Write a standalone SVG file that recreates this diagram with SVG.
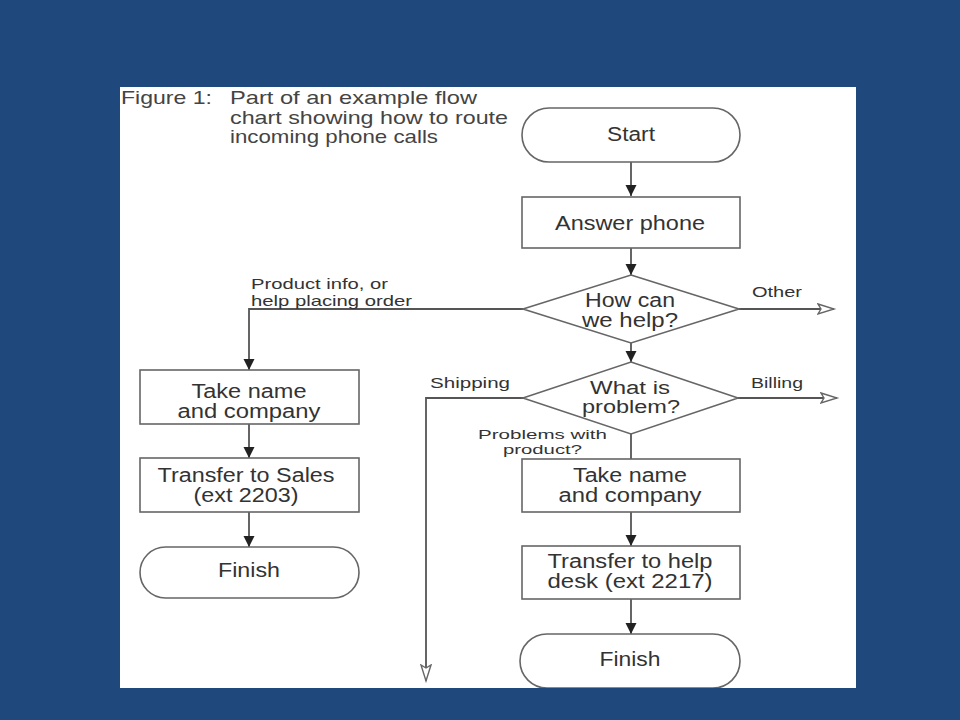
<svg xmlns="http://www.w3.org/2000/svg" width="960" height="720" viewBox="0 0 960 720">
<style>
.t{font-family:"Liberation Sans",Arial,sans-serif;font-size:20px;fill:#333;text-anchor:middle}
.d{font-size:18px}
.s{font-family:"Liberation Sans",Arial,sans-serif;font-size:15px;fill:#333}
.p{font-family:"Liberation Sans",Arial,sans-serif;font-size:13.5px;fill:#333}
.ti{font-family:"Liberation Sans",Arial,sans-serif;font-size:19px;fill:#444}
.n{fill:#fff;stroke:#666;stroke-width:1.6}
.c{fill:none;stroke:#555;stroke-width:1.8}
</style>
<defs>
<marker id="af" markerUnits="userSpaceOnUse" markerWidth="12" markerHeight="12" refX="11" refY="5.5" orient="auto">
<path d="M0,0 L11,5.5 L0,11 z" fill="#222"/>
</marker>
<marker id="ah" markerUnits="userSpaceOnUse" markerWidth="20" markerHeight="14" refX="17" refY="6" orient="auto">
<path d="M1,1 L17,6 L1,11 L4,6 z" fill="#fff" stroke="#666" stroke-width="1.4"/>
</marker>
</defs>
<rect x="0" y="0" width="960" height="720" fill="#1f497d"/>
<rect x="120" y="87" width="736" height="601" fill="#fff"/>

<g id="title">
<text class="ti" x="121" y="104" textLength="91" lengthAdjust="spacingAndGlyphs">Figure 1:</text>
<text class="ti" x="230" y="104" textLength="247" lengthAdjust="spacingAndGlyphs">Part of an example flow</text>
<text class="ti" x="230" y="124" textLength="278" lengthAdjust="spacingAndGlyphs">chart showing how to route</text>
<text class="ti" x="230" y="143" textLength="208" lengthAdjust="spacingAndGlyphs">incoming phone calls</text>
</g>

<g id="connectors">
<line class="c" x1="631" y1="162" x2="631" y2="196" marker-end="url(#af)"/>
<line class="c" x1="631" y1="248" x2="631" y2="275" marker-end="url(#af)"/>
<line class="c" x1="739" y1="309" x2="834" y2="309" marker-end="url(#ah)"/>
<line class="c" x1="631" y1="343" x2="631" y2="362" marker-end="url(#af)"/>
<line class="c" x1="738" y1="398" x2="837" y2="398" marker-end="url(#ah)"/>
<polyline class="c" points="523,398 426,398 426,681" marker-end="url(#ah)"/>
<polyline class="c" points="523,309 249,309 249,370" marker-end="url(#af)"/>
<line class="c" x1="249" y1="424" x2="249" y2="458" marker-end="url(#af)"/>
<line class="c" x1="249" y1="512" x2="249" y2="547" marker-end="url(#af)"/>
<line class="c" x1="631" y1="434" x2="631" y2="459"/>
<line class="c" x1="631" y1="512" x2="631" y2="546" marker-end="url(#af)"/>
<line class="c" x1="631" y1="599" x2="631" y2="634" marker-end="url(#af)"/>
<text class="s" x="752" y="297" textLength="50" lengthAdjust="spacingAndGlyphs">Other</text>
<text class="s" x="751" y="388" textLength="52" lengthAdjust="spacingAndGlyphs">Billing</text>
<text class="s" x="430" y="388" textLength="80" lengthAdjust="spacingAndGlyphs">Shipping</text>
<text class="s" x="251" y="289" textLength="137" lengthAdjust="spacingAndGlyphs">Product info, or</text>
<text class="s" x="251" y="306" textLength="161" lengthAdjust="spacingAndGlyphs">help placing order</text>
<text class="p" x="478" y="439" textLength="129" lengthAdjust="spacingAndGlyphs">Problems with</text>
<text class="p" x="503" y="454" textLength="79" lengthAdjust="spacingAndGlyphs">product?</text>
</g>

<g id="start">
<rect class="n" x="522" y="108" width="218" height="54" rx="27" ry="27"/>
<text class="t" x="631" y="141" textLength="48" lengthAdjust="spacingAndGlyphs">Start</text>
</g>
<g id="answer">
<rect class="n" x="522" y="197" width="218" height="51"/>
<text class="t" x="630" y="230" textLength="150" lengthAdjust="spacingAndGlyphs">Answer phone</text>
</g>
<g id="howhelp">
<polygon class="n" points="631,275 739,309 631,343 523,309"/>
<text class="t" x="630" y="307" textLength="90" lengthAdjust="spacingAndGlyphs">How can</text>
<text class="t" x="630" y="327" textLength="96" lengthAdjust="spacingAndGlyphs">we help?</text>
</g>
<g id="problem">
<polygon class="n" points="631,362 738,398 631,434 523,398"/>
<text class="t d" x="630" y="394" textLength="80" lengthAdjust="spacingAndGlyphs">What is</text>
<text class="t d" x="631" y="413" textLength="98" lengthAdjust="spacingAndGlyphs">problem?</text>
</g>
<g id="takename1">
<rect class="n" x="140" y="370" width="219" height="54"/>
<text class="t" x="249" y="398" textLength="115" lengthAdjust="spacingAndGlyphs">Take name</text>
<text class="t" x="249" y="418" textLength="143" lengthAdjust="spacingAndGlyphs">and company</text>
</g>
<g id="sales">
<rect class="n" x="140" y="458" width="219" height="54"/>
<text class="t" x="246" y="482" textLength="177" lengthAdjust="spacingAndGlyphs">Transfer to Sales</text>
<text class="t" x="246" y="502" textLength="105" lengthAdjust="spacingAndGlyphs">(ext 2203)</text>
</g>
<g id="finish1">
<rect class="n" x="140" y="547" width="219" height="51" rx="25.5" ry="25.5"/>
<text class="t" x="249" y="577" textLength="62" lengthAdjust="spacingAndGlyphs">Finish</text>
</g>
<g id="takename2">
<rect class="n" x="522" y="459" width="218" height="53"/>
<text class="t" x="630" y="482" textLength="114" lengthAdjust="spacingAndGlyphs">Take name</text>
<text class="t" x="630" y="502" textLength="143" lengthAdjust="spacingAndGlyphs">and company</text>
</g>
<g id="helpdesk">
<rect class="n" x="522" y="546" width="218" height="53"/>
<text class="t" x="630" y="568" textLength="165" lengthAdjust="spacingAndGlyphs">Transfer to help</text>
<text class="t" x="630" y="588" textLength="165" lengthAdjust="spacingAndGlyphs">desk (ext 2217)</text>
</g>
<g id="finish2">
<rect class="n" x="520" y="634" width="220" height="54" rx="27" ry="27"/>
<text class="t" x="630" y="666" textLength="61" lengthAdjust="spacingAndGlyphs">Finish</text>
</g>
<rect x="120" y="688" width="736" height="32" fill="#1f497d"/>
</svg>
